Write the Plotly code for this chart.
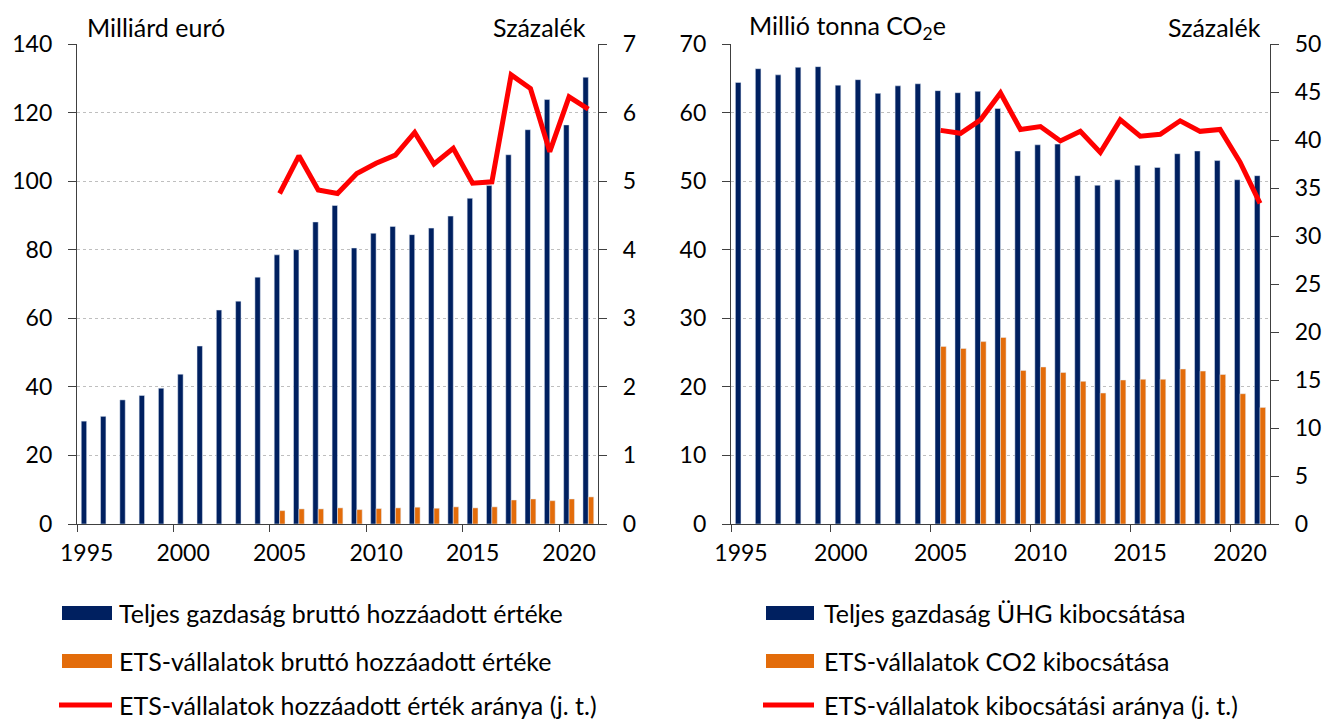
import plotly.graph_objects as go

years = list(range(1995, 2022))

# left chart: gross value added (billion EUR) and ETS share (%)
gva_total = [30.0, 31.4, 36.2, 37.5, 39.6, 43.7, 51.9, 62.4, 65.0, 72.0,
             78.5, 80.0, 88.1, 92.9, 80.5, 84.8, 86.8, 84.4, 86.3, 89.8,
             95.0, 98.7, 107.7, 115.0, 123.8, 116.4, 130.3]
gva_ets = [None] * 10 + [3.9, 4.4, 4.4, 4.7, 4.2, 4.5, 4.7, 4.9, 4.6, 5.0,
                         4.7, 5.0, 7.0, 7.3, 6.8, 7.3, 7.9]
gva_share = [None] * 10 + [4.82, 5.37, 4.87, 4.82, 5.11, 5.26, 5.38, 5.71, 5.25, 5.48,
                           4.97, 4.99, 6.55, 6.35, 5.43, 6.23, 6.05]

# right chart: GHG emissions (Mt CO2e) and ETS share (%)
ghg_total = [64.4, 66.4, 65.5, 66.6, 66.7, 64.0, 64.8, 62.8, 63.9, 64.2,
             63.2, 62.9, 63.1, 60.6, 54.4, 55.3, 55.4, 50.8, 49.4, 50.2,
             52.3, 52.0, 54.0, 54.4, 53.0, 50.2, 50.8]
ghg_ets = [None] * 10 + [25.9, 25.6, 26.6, 27.2, 22.4, 22.9, 22.1, 20.8, 19.1, 21.0,
                         21.1, 21.1, 22.6, 22.3, 21.8, 19.0, 17.0]
ghg_share = [None] * 10 + [41.0, 40.7, 42.1, 44.9, 41.1, 41.4, 39.9, 40.9, 38.7, 42.1,
                           40.4, 40.6, 42.0, 40.9, 41.1, 37.7, 33.4]

label_years = [1995, 2000, 2005, 2010, 2015, 2020]
boundary_ticks = [1994.5, 1999.5, 2004.5, 2009.5, 2014.5, 2019.5]

legend_left = ['Teljes gazdaság bruttó hozzáadott értéke',
               'ETS-vállalatok bruttó hozzáadott értéke',
               'ETS-vállalatok hozzáadott érték aránya (j. t.)']
legend_right = ['Teljes gazdaság ÜHG kibocsátása',
                'ETS-vállalatok CO2 kibocsátása',
                'ETS-vállalatok kibocsátási aránya (j. t.)']

NAVY = '#002060'
ORANGE = '#E36C0A'
RED = '#FF0000'
AXIS = '#404040'
GRID = '#BFBFBF'
FONT = 'Lato'

W, H = 1323, 720


def px(x):
    return x / W


def py(y):
    return 1 - y / H


fig = go.Figure()

fig.add_trace(go.Bar(x=years, y=gva_total, marker_color=NAVY, name=legend_left[0],
                     xaxis='x', yaxis='y'))
fig.add_trace(go.Bar(x=years, y=gva_ets, marker_color=ORANGE, name=legend_left[1],
                     xaxis='x', yaxis='y'))
fig.add_trace(go.Scatter(x=years, y=gva_share, mode='lines', line=dict(color=RED, width=5),
                         name=legend_left[2], xaxis='x', yaxis='y2'))

fig.add_trace(go.Bar(x=years, y=ghg_total, marker_color=NAVY, name=legend_right[0],
                     xaxis='x2', yaxis='y3'))
fig.add_trace(go.Bar(x=years, y=ghg_ets, marker_color=ORANGE, name=legend_right[1],
                     xaxis='x2', yaxis='y3'))
fig.add_trace(go.Scatter(x=years, y=ghg_share, mode='lines', line=dict(color=RED, width=5),
                         name=legend_right[2], xaxis='x2', yaxis='y4'))

y_dom = [py(524), py(44)]
tick_font = dict(family=FONT, size=23, color='black')

xaxis_common = dict(
    range=[1994.5, 2021.5], tickmode='array', tickvals=label_years, ticks='',
    showline=True, linecolor=AXIS, linewidth=1.3, showgrid=False, zeroline=False,
    tickfont=tick_font, ticklabelstandoff=8, automargin=False,
    minor=dict(tickmode='array', tickvals=boundary_ticks, ticks='outside', ticklen=7,
               tickcolor=AXIS, tickwidth=1.3, showgrid=False),
)
yaxis_common = dict(
    showline=True, linecolor=AXIS, linewidth=1.3, ticks='outside', ticklen=8,
    tickcolor=AXIS, tickwidth=1.3, zeroline=False, tickfont=tick_font,
    ticklabelstandoff=11, domain=y_dom, automargin=False,
)

fig.update_layout(
    width=W, height=H,
    margin=dict(l=0, r=0, t=0, b=0),
    plot_bgcolor='white', paper_bgcolor='white',
    barmode='group', bargap=0.44, bargroupgap=0,
    showlegend=False,
    font=dict(family=FONT, size=25, color='black'),
    xaxis=dict(domain=[px(77), px(598)], anchor='y', **xaxis_common),
    xaxis2=dict(domain=[px(731), px(1270)], anchor='y3', **xaxis_common),
    yaxis=dict(anchor='x', range=[0, 140], dtick=20, showgrid=True, gridcolor=GRID,
               griddash='dot', gridwidth=1.3, **yaxis_common),
    yaxis2=dict(anchor='x', overlaying='y', side='right', range=[0, 7], dtick=1,
                showgrid=False, **yaxis_common),
    yaxis3=dict(anchor='x2', range=[0, 70], dtick=10, showgrid=True, gridcolor=GRID,
                griddash='dot', gridwidth=1.3, **yaxis_common),
    yaxis4=dict(anchor='x2', overlaying='y3', side='right', range=[0, 50], dtick=5,
                showgrid=False, **yaxis_common),
)

# unit labels above the plots
units = [('Milliárd euró', 85, 'left'), ('Százalék', 588, 'right'),
         ('Millió tonna CO<sub>2</sub>e', 747, 'left'), ('Százalék', 1263, 'right')]
for text, x, anchor in units:
    fig.add_annotation(text=text, x=px(x), y=py(27), xref='paper', yref='paper',
                       xanchor=anchor, yanchor='middle', showarrow=False,
                       font=dict(family=FONT, size=25, color='black'))

# legends below each chart, drawn with wide swatches as in the original
rows = [613, 661, 705]
for labels, x0, x1, tx in [(legend_left, 62, 112, 117), (legend_right, 766, 814, 822)]:
    for i, (label, yy) in enumerate(zip(labels, rows)):
        if i < 2:
            fig.add_shape(type='rect', xref='paper', yref='paper',
                          x0=px(x0), x1=px(x1), y0=py(yy + 7), y1=py(yy - 7),
                          fillcolor=[NAVY, ORANGE][i], line=dict(width=0))
        else:
            fig.add_shape(type='line', xref='paper', yref='paper',
                          x0=px(x0 - 3), x1=px(x1), y0=py(yy), y1=py(yy),
                          line=dict(color=RED, width=5))
        fig.add_annotation(text=label, x=px(tx), y=py(yy), xref='paper', yref='paper',
                           xanchor='left', yanchor='middle', showarrow=False,
                           font=dict(family=FONT, size=25, color='black'))

# the page body has a default margin; drop it so the figure fills the window
fig.write_html('out.html', config=dict(displayModeBar=False),
               post_script="document.body.style.margin = '0';")
